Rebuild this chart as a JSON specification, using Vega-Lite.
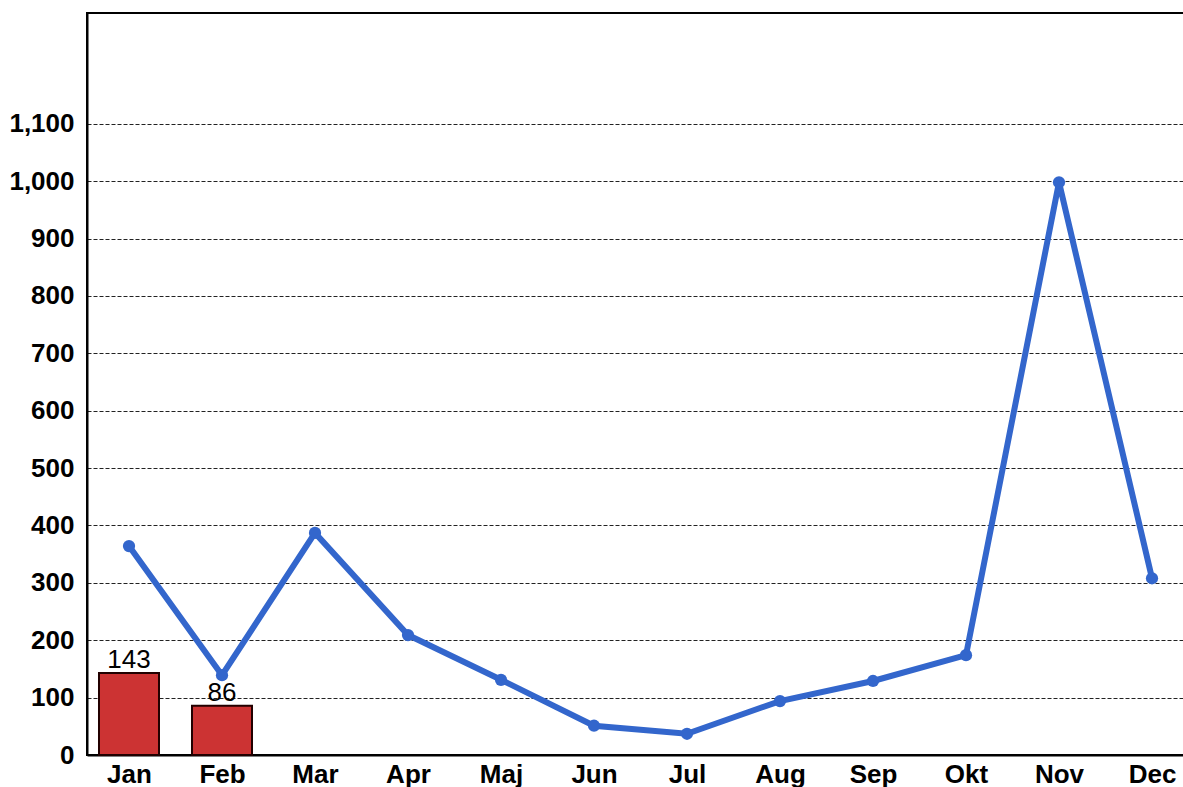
{
  "$schema": "https://vega.github.io/schema/vega-lite/v6.json",
  "autosize": "none",
  "width": 1107,
  "height": 742,
  "padding": {"left": 87, "top": 13, "right": 0, "bottom": 32},
  "background": "white",
  "config": {
    "view": {"stroke": "black", "strokeWidth": 2},
    "font": "Liberation Sans"
  },
  "data": {
    "values": [
      {"month": "Jan", "line": 364, "bar": 143},
      {"month": "Feb", "line": 139, "bar": 86},
      {"month": "Mar", "line": 387, "bar": null},
      {"month": "Apr", "line": 209, "bar": null},
      {"month": "Maj", "line": 131, "bar": null},
      {"month": "Jun", "line": 51, "bar": null},
      {"month": "Jul", "line": 37, "bar": null},
      {"month": "Aug", "line": 94, "bar": null},
      {"month": "Sep", "line": 129, "bar": null},
      {"month": "Okt", "line": 174, "bar": null},
      {"month": "Nov", "line": 998, "bar": null},
      {"month": "Dec", "line": 308, "bar": null}
    ]
  },
  "encoding": {
    "x": {
      "field": "month", "type": "ordinal", "sort": null,
      "scale": {"type": "point", "padding": 0.4516},
      "axis": {
        "title": null, "labelAngle": 0, "labelFontSize": 26, "labelFontWeight": "bold",
        "labelColor": "black", "ticks": false, "labelPadding": 6,
        "domainColor": "black", "domainWidth": 2, "grid": false
      }
    }
  },
  "layer": [
    {
      "mark": {"type": "bar", "size": 60, "fill": "#CC3333", "stroke": "#220000", "strokeWidth": 2},
      "encoding": {
        "y": {
          "field": "bar", "type": "quantitative",
          "scale": {"domain": [0, 1293], "nice": false, "zero": true},
          "axis": {
            "title": null, "values": [0,100,200,300,400,500,600,700,800,900,1000,1100],
            "format": ",d", "labelFontSize": 26, "labelFontWeight": "bold", "labelColor": "black",
            "ticks": false, "labelPadding": 13, "domainColor": "black", "domainWidth": 2,
            "grid": true, "gridColor": "#222222", "gridDash": [4, 2], "gridWidth": 1.2
          }
        }
      }
    },
    {
      "mark": {"type": "text", "baseline": "alphabetic", "dy": -5, "fontSize": 26, "color": "black"},
      "encoding": {
        "y": {"field": "bar", "type": "quantitative"},
        "text": {"field": "bar", "type": "quantitative"}
      }
    },
    {
      "mark": {"type": "line", "color": "#3366CC", "strokeWidth": 6, "point": {"filled": true, "size": 150, "color": "#3366CC"}},
      "encoding": {
        "y": {"field": "line", "type": "quantitative"}
      }
    }
  ]
}
